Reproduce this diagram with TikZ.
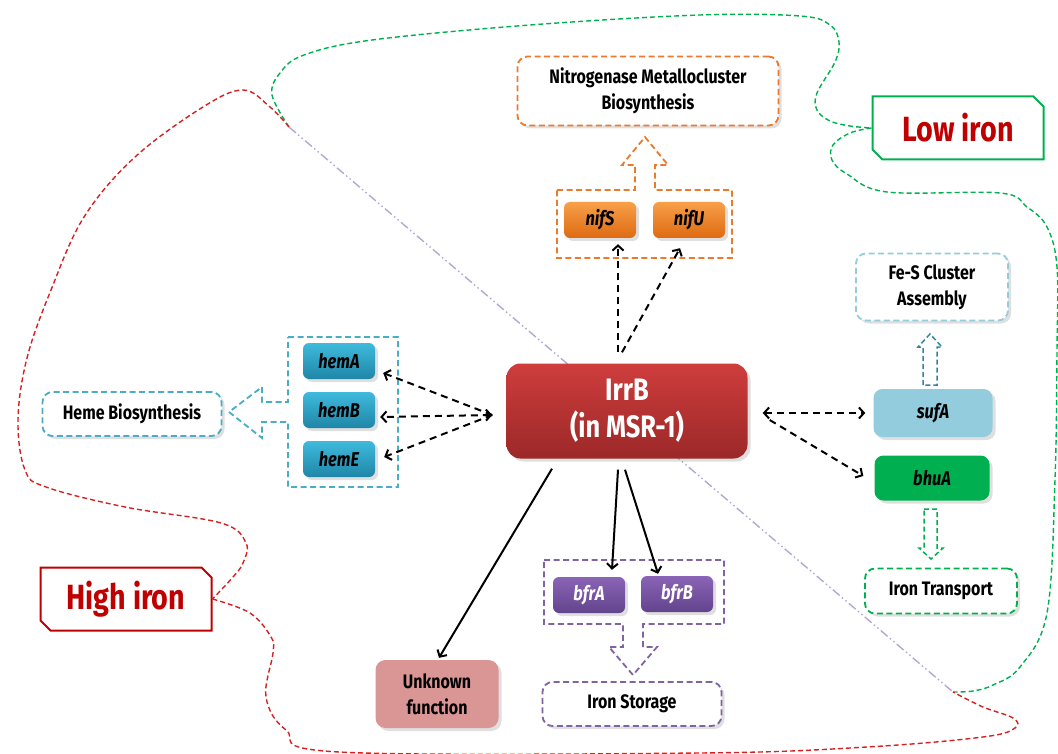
\documentclass[tikz,border=0pt]{standalone}
\usepackage{fontspec}
\setmainfont{Fira Sans}[FakeStretch=0.82]
\usetikzlibrary{arrows.meta,shapes.misc,shadows,calc}
\definecolor{irrtop}{HTML}{CF3D3D}
\definecolor{irrbot}{HTML}{9C2828}
\definecolor{niftop}{HTML}{F7A049}
\definecolor{nifbot}{HTML}{DE6A12}
\definecolor{nifline}{HTML}{EC7A2C}
\definecolor{hemtop}{HTML}{3FBADD}
\definecolor{hembot}{HTML}{1F86A7}
\definecolor{hemline}{HTML}{4BACC6}
\definecolor{bfrtop}{HTML}{8B64B6}
\definecolor{bfrbot}{HTML}{62448D}
\definecolor{bfrline}{HTML}{8064A2}
\definecolor{fesline}{HTML}{92CDDC}
\definecolor{fesdark}{HTML}{31859C}
\definecolor{sufblue}{HTML}{93CDDD}
\definecolor{bhugreen}{HTML}{00B050}
\definecolor{unkpink}{HTML}{D99694}
\definecolor{lowred}{HTML}{C00000}
\definecolor{zonered}{HTML}{D42222}
\definecolor{lavender}{HTML}{B4A7D6}
\begin{document}
\begin{tikzpicture}[x=1pt,y=-1pt,
    >={Straight Barb[length=5pt,width=11pt]},
    soft/.style={drop shadow={opacity=0.25,shadow xshift=3pt,shadow yshift=-3pt}},
    gene/.style={rounded corners=6pt, minimum width=72pt, minimum height=36pt, inner sep=0pt,
        font=\fontsize{20}{22}\selectfont\bfseries\itshape, soft},
    result/.style={draw, line width=1.8pt, dash pattern=on 6pt off 3.5pt, rounded corners=10pt,
        fill=white, inner sep=0pt, align=center, font=\fontsize{19.5}{26}\selectfont\bfseries, soft},
    group/.style={line width=1.8pt, dash pattern=on 6pt off 3.5pt},
    dasharrow/.style={line width=2pt, dash pattern=on 7pt off 5pt, ->},
    fullarrow/.style={line width=2pt, ->},
    zone/.style={line width=1.4pt, dash pattern=on 5pt off 3pt},
    ironlabel/.style={chamfered rectangle, chamfered rectangle corners={north east,south west},
        chamfered rectangle sep=5pt, draw, line width=2pt, fill=white, text=lowred,
        minimum width=171pt, minimum height=63pt, inner sep=0pt,
        font=\fontsize{35}{38}\selectfont\bfseries}]
    \useasboundingbox (0,0) rectangle (1058,754);

    % iron levels
    \draw(958,128) node [ironlabel, draw=bhugreen](lowiron){Low iron};
    \draw(126,599) node [ironlabel, draw=lowred](highiron){High iron};
    \coordinate (split) at (289,127);
    \coordinate (splitend) at (953,692);

    \draw[zone, bhugreen] plot [smooth, tension=0.6] coordinates {(split) (272,95) (280,73) (304,55)
        (372,40) (530,25) (700,15) (800,16) (830,25) (839,42) (835,62) (817,93) (817,110) (830,121)
        (850,126) (lowiron.west)};
    \draw[zone, bhugreen] plot [smooth, tension=0.6] coordinates {(lowiron.west) (850,133) (833,145)
        (832,160) (847,174) (887,192) (1000,193) (1027,207) (1047,227) (1057,267) (1057,350)
        (1055,480) (1047,613) (1020,667) (993,685) (973,691) (splitend)};
    \draw[zone, zonered] plot [smooth, tension=0.6] coordinates {(split) (270,107) (243,90) (203,107)
        (135,157) (84,217) (51,290) (27,358) (18,420) (25,470) (46,487) (125,507) (221,523)
        (246,543) (243,563) (233,577) (highiron.east)};
    \draw[zone, zonered] plot [smooth, tension=0.6] coordinates {(highiron.east) (250,613) (271,637)
        (273,653) (266,697) (286,730) (339,752) (700,753) (867,747) (983,737) (1015,728)
        (1013,718) (983,707) (splitend)};
    \draw[lavender, line width=1.4pt, dash pattern=on 9pt off 3pt on 1.5pt off 3pt on 1.5pt off 3pt]
        (split) -- (splitend);

    % groups with their block arrows
    \draw[group, nifline, fill=white] (557,190) -- (635,190) -- (635,165) -- (622,165) -- (645,137)
        -- (668,165) -- (655,165) -- (655,190) -- (732,190) -- (732,258) -- (557,258) -- cycle;
    \draw[group, hemline, fill=white] (288,337) -- (398,337) -- (398,487) -- (288,487) -- (288,422)
        -- (262,422) -- (262,438) -- (229,412) -- (262,387) -- (262,402) -- (288,402) -- cycle;
    \draw[group, bfrline, fill=white] (544,560) -- (724,560) -- (724,624) -- (643,624) -- (643,647)
        -- (657,647) -- (633,675) -- (609,647) -- (623,647) -- (623,624) -- (544,624) -- cycle;
    \draw[group, fesdark, line width=1.5pt, dash pattern=on 5pt off 3pt] (923,385) -- (923,347)
        -- (918,347) -- (930,334) -- (942,347) -- (937,347) -- (937,385) -- cycle;
    \draw[group, bhugreen, line width=1.5pt, dash pattern=on 5pt off 3pt] (924,509) -- (937,509)
        -- (937,548) -- (943,548) -- (931,559) -- (919,548) -- (924,548) -- cycle;

    % regulator
    \draw(627,411) node [rounded corners=14pt, minimum width=241pt, minimum height=95pt,
        top color=irrtop, bottom color=irrbot, text=white, align=center,
        font=\fontsize{31}{37}\selectfont\bfseries, soft](irrb){IrrB\\(in MSR-1)};

    % genes
    \draw(600,220) node [gene, top color=niftop, bottom color=nifbot](nifS){nifS};
    \draw(689,220) node [gene, top color=niftop, bottom color=nifbot](nifU){nifU};
    \draw(339,361) node [gene, top color=hemtop, bottom color=hembot](hemA){hemA};
    \draw(339,410) node [gene, top color=hemtop, bottom color=hembot](hemB){hemB};
    \draw(339,459) node [gene, top color=hemtop, bottom color=hembot](hemE){hemE};
    \draw(589,595) node [gene, top color=bfrtop, bottom color=bfrbot, text=white](bfrA){bfrA};
    \draw(677,594) node [gene, top color=bfrtop, bottom color=bfrbot, text=white](bfrB){bfrB};
    \draw(933,413) node [gene, fill=sufblue, rounded corners=9pt, minimum width=119pt,
        minimum height=48pt](sufA){sufA};
    \draw(932,478) node [gene, fill=bhugreen, rounded corners=9pt, minimum width=115pt,
        minimum height=45pt](bhuA){bhuA};

    % functions
    \draw(648,91) node [result, draw=nifline, minimum width=261pt, minimum height=69pt](nitro)
        {Nitrogenase Metallocluster\\Biosynthesis};
    \draw(132,414) node [result, draw=hemline, minimum width=179pt, minimum height=44pt](heme)
        {Heme Biosynthesis};
    \draw(932,287) node [result, draw=fesline, minimum width=152pt, minimum height=67pt](fes)
        {Fe-S Cluster\\Assembly};
    \draw(941,591) node [result, draw=bhugreen, minimum width=152pt, minimum height=45pt](transport)
        {Iron Transport};
    \draw(632,704) node [result, draw=bfrline, minimum width=179pt, minimum height=44pt](storage)
        {Iron Storage};
    \draw(437,694) node [rounded corners=10pt, fill=unkpink, minimum width=123pt, minimum height=68pt,
        align=center, font=\fontsize{19.5}{26}\selectfont\bfseries, soft](unknown){Unknown\\function};

    % regulation
    \coordinate (hemhub) at ($(irrb.west)+(-14,4)$);
    \draw[dasharrow] (hemhub) -- ($(hemA.east)+(8,12)$);
    \draw[dasharrow, <->] (hemhub) -- ($(hemB.east)+(5,7)$);
    \draw[dasharrow] (hemhub) -- ($(hemE.east)+(9,-2)$);
    \draw[dasharrow, <->] ($(irrb.east)+(15,2)$) -- ($(sufA.west)+(-8,0)$);
    \draw[dasharrow] ($(irrb.east)+(22,9)$) -- ($(bhuA.west)+(-11,-2)$);
    \draw[dasharrow] ($(irrb.north)+(-9,-11)$) -- ($(nifS.south)+(18,6)$);
    \draw[dasharrow] ($(irrb.north)+(-5,-11)$) -- ($(nifU.south)+(-9,10)$);
    \draw[fullarrow] ($(irrb.south)+(-75,10)$) -- ($(unknown.north)+(2,-2)$);
    \draw[fullarrow] ($(irrb.south)+(-9,11)$) -- ($(bfrA.north)+(23,-7)$);
    \draw[fullarrow] ($(irrb.south)+(-2,11)$) -- ($(bfrB.north)+(-19,-2)$);
\end{tikzpicture}
\end{document}
